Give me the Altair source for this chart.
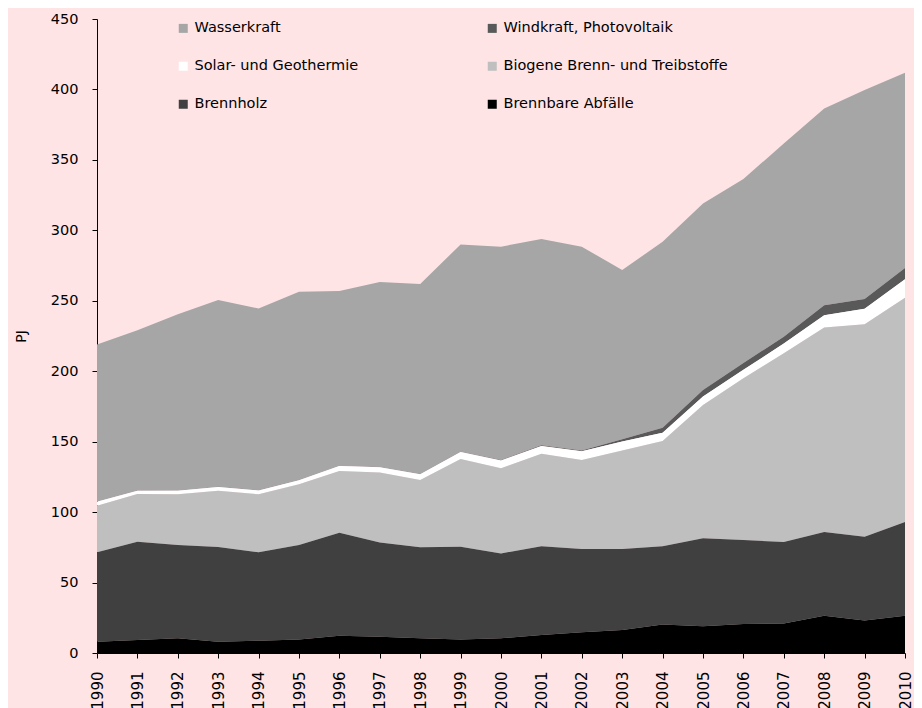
import altair as alt
import pandas as pd

years = list(range(1990, 2011))

wasserkraft = [111.6, 113.7, 125.3, 132.5, 129.0, 133.6, 124.1, 131.3, 134.9, 147.1, 151.5,
               146.4, 144.6, 120.1, 132.0, 132.3, 130.6, 137.2, 139.7, 148.3, 138.7]
windkraft_pv = [0.1, 0.1, 0.1, 0.1, 0.1, 0.1, 0.1, 0.1, 0.2, 0.2, 0.3,
                0.4, 0.6, 1.5, 3.6, 4.7, 4.8, 4.8, 7.0, 7.0, 8.0]
solar_geo = [2.8, 2.4, 2.5, 2.7, 2.8, 3.0, 3.5, 3.7, 4.0, 5.0, 5.5,
             5.5, 6.2, 6.4, 5.8, 6.0, 6.0, 7.0, 8.8, 11.0, 13.0]
biogene = [33.0, 33.8, 36.0, 40.0, 41.1, 43.1, 43.8, 49.7, 47.8, 62.2, 60.4,
           65.8, 63.2, 70.0, 74.8, 94.6, 114.8, 133.9, 145.1, 150.7, 159.2]
brennholz = [63.5, 69.8, 66.2, 67.2, 62.8, 67.0, 73.1, 67.0, 64.6, 65.9, 60.3,
             62.9, 59.1, 57.5, 55.4, 62.5, 59.6, 57.8, 59.4, 59.6, 66.5]
abfaelle = [8.0, 9.2, 10.4, 8.0, 8.7, 9.6, 12.3, 11.5, 10.4, 9.6, 10.4,
            12.8, 14.7, 16.3, 20.3, 18.9, 20.6, 21.0, 26.5, 23.0, 26.5]

# stacking order: top to bottom
names = ["Wasserkraft", "Windkraft, Photovoltaik", "Solar- und Geothermie",
         "Biogene Brenn- und Treibstoffe", "Brennholz", "Brennbare Abfälle"]
colors = ["#A6A6A6", "#595959", "#FFFFFF", "#BFBFBF", "#404040", "#000000"]
series = [wasserkraft, windkraft_pv, solar_geo, biogene, brennholz, abfaelle]

# legend order (legend fills column by column)
legend_order = [0, 2, 4, 1, 3, 5]
legend_names = [names[i] for i in legend_order]
legend_colors = [colors[i] for i in legend_order]

rows = []
for i, (name, vals) in enumerate(zip(names, series)):
    for y, v in zip(years, vals):
        rows.append({"Jahr": y, "PJ": v, "Träger": name, "ord": len(names) - i})
df = pd.DataFrame(rows)

FONT = "DejaVu Sans"

chart = alt.Chart(df).mark_area(strokeWidth=0).encode(
    x=alt.X("Jahr:Q",
            scale=alt.Scale(domain=[1990, 2010], nice=False, zero=False),
            axis=alt.Axis(values=years, format="d", labelAngle=270, labelAlign="right",
                          labelBaseline="middle", labelPadding=13, tickSize=5,
                          grid=False, domainColor="#000000", tickColor="#000000",
                          labelFont=FONT, labelFontSize=15, labelColor="#000000"),
            title=None),
    y=alt.Y("PJ:Q", stack="zero",
            scale=alt.Scale(domain=[0, 450], nice=False),
            axis=alt.Axis(values=list(range(0, 451, 50)), grid=False, tickSize=5,
                          labelPadding=14, domainColor="#000000", tickColor="#000000",
                          labelFont=FONT, labelFontSize=14.5, labelColor="#000000",
                          titleFont=FONT, titleFontSize=14, titleFontWeight="normal",
                          titleColor="#000000", titlePadding=22),
            title="PJ"),
    color=alt.Color("Träger:N",
                    scale=alt.Scale(domain=legend_names, range=legend_colors),
                    legend=alt.Legend(orient="none", legendX=79, legendY=2, columns=2,
                                      title=None, symbolType="square", symbolSize=81,
                                      symbolStrokeWidth=0, labelFont=FONT,
                                      labelFontSize=14.5, labelColor="#000000",
                                      labelOffset=4, rowPadding=23, columnPadding=126,
                                      labelLimit=400)),
    order=alt.Order("ord:Q", sort="ascending"),
).properties(
    width=808, height=634,
    autosize=alt.AutoSizeParams(type="none"),
    padding={"left": 89, "top": 11, "right": 9, "bottom": 60},
    background="#FFE4E6",
).configure_view(stroke="transparent")

chart.save("out.html", embed_options={"renderer": "svg", "actions": False})
